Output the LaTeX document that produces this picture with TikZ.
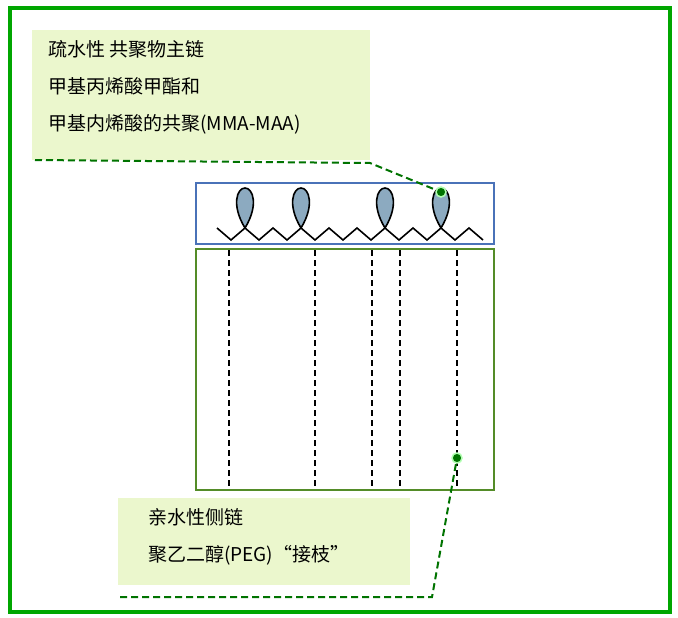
\documentclass[tikz,border=0pt]{standalone}
\usepackage{fontspec}
\setmainfont{Noto Sans CJK SC}
\usetikzlibrary{positioning}
\definecolor{lobefill}{RGB}{140,170,192}
\definecolor{labelfill}{RGB}{235,247,205}
\definecolor{mainblue}{RGB}{74,114,184}
\definecolor{sidegreen}{RGB}{84,140,40}
\begin{document}
\begin{tikzpicture}[x=1pt,y=-1pt,
		label box/.style={fill=labelfill,draw=none,align=left,anchor=north west,
		  inner sep=0pt,font=\fontsize{19}{37}\selectfont},
		leader/.style={dash pattern=on 7pt off 4pt,line width=2pt,green!45!black},
		lobe/.style={fill=lobefill,draw=black,line width=1.6pt}]
	\useasboundingbox (0,0) rectangle (678,618);
	\draw[green!65!black,line width=4pt] (10,8) rectangle (670,612);
	% labels
	\path[label box] (32,30) rectangle (370,160);
	\node[label box,fill=none] (top) at (48,40) {疏水性 共聚物主链\\甲基丙烯酸甲酯和\\甲基内烯酸的共聚(MMA-MAA)};
	\path[label box] (118,498) rectangle (410,585);
	\node[label box,fill=none] (bot) at (148,508) {亲水性侧链\\聚乙二醇(PEG)“接枝”};
	% boxes
	\draw[mainblue,line width=2pt] (196,183) rectangle (494,244);
	\draw[sidegreen,line width=2pt] (196,249) rectangle (494,490);
	% side chains
	\foreach \x in {229,315,372,400,457}
		\draw[dash pattern=on 6pt off 4pt,line width=1.4pt] (\x,250) -- (\x,486);
	% lobes
	\foreach \k in {2,6,12,16}
		\draw[lobe] (217+14*\k,228) .. controls (217+14*\k-14,205) and (217+14*\k-8,188) .. (217+14*\k,188)
			.. controls (217+14*\k+8,188) and (217+14*\k+14,205) .. (217+14*\k,228);
	% backbone
	\draw[line width=1.6pt] (217,228) \foreach \k in {1,...,19} {-- ({217+14*\k},{\k/2==int(\k/2) ? 228 : 240})};
	% leaders
	\coordinate (d1) at (441,192);
	\coordinate (d2) at (457,458);
	\draw[leader] (35,160) -- (370,163) -- (d1);
	\draw[leader] (120,597) -- (432,597) -- (d2);
	\foreach \d in {d1,d2}
		\fill[green!45!black,draw=green!30,line width=1.5pt] (\d) circle (5);
\end{tikzpicture}
\end{document}
